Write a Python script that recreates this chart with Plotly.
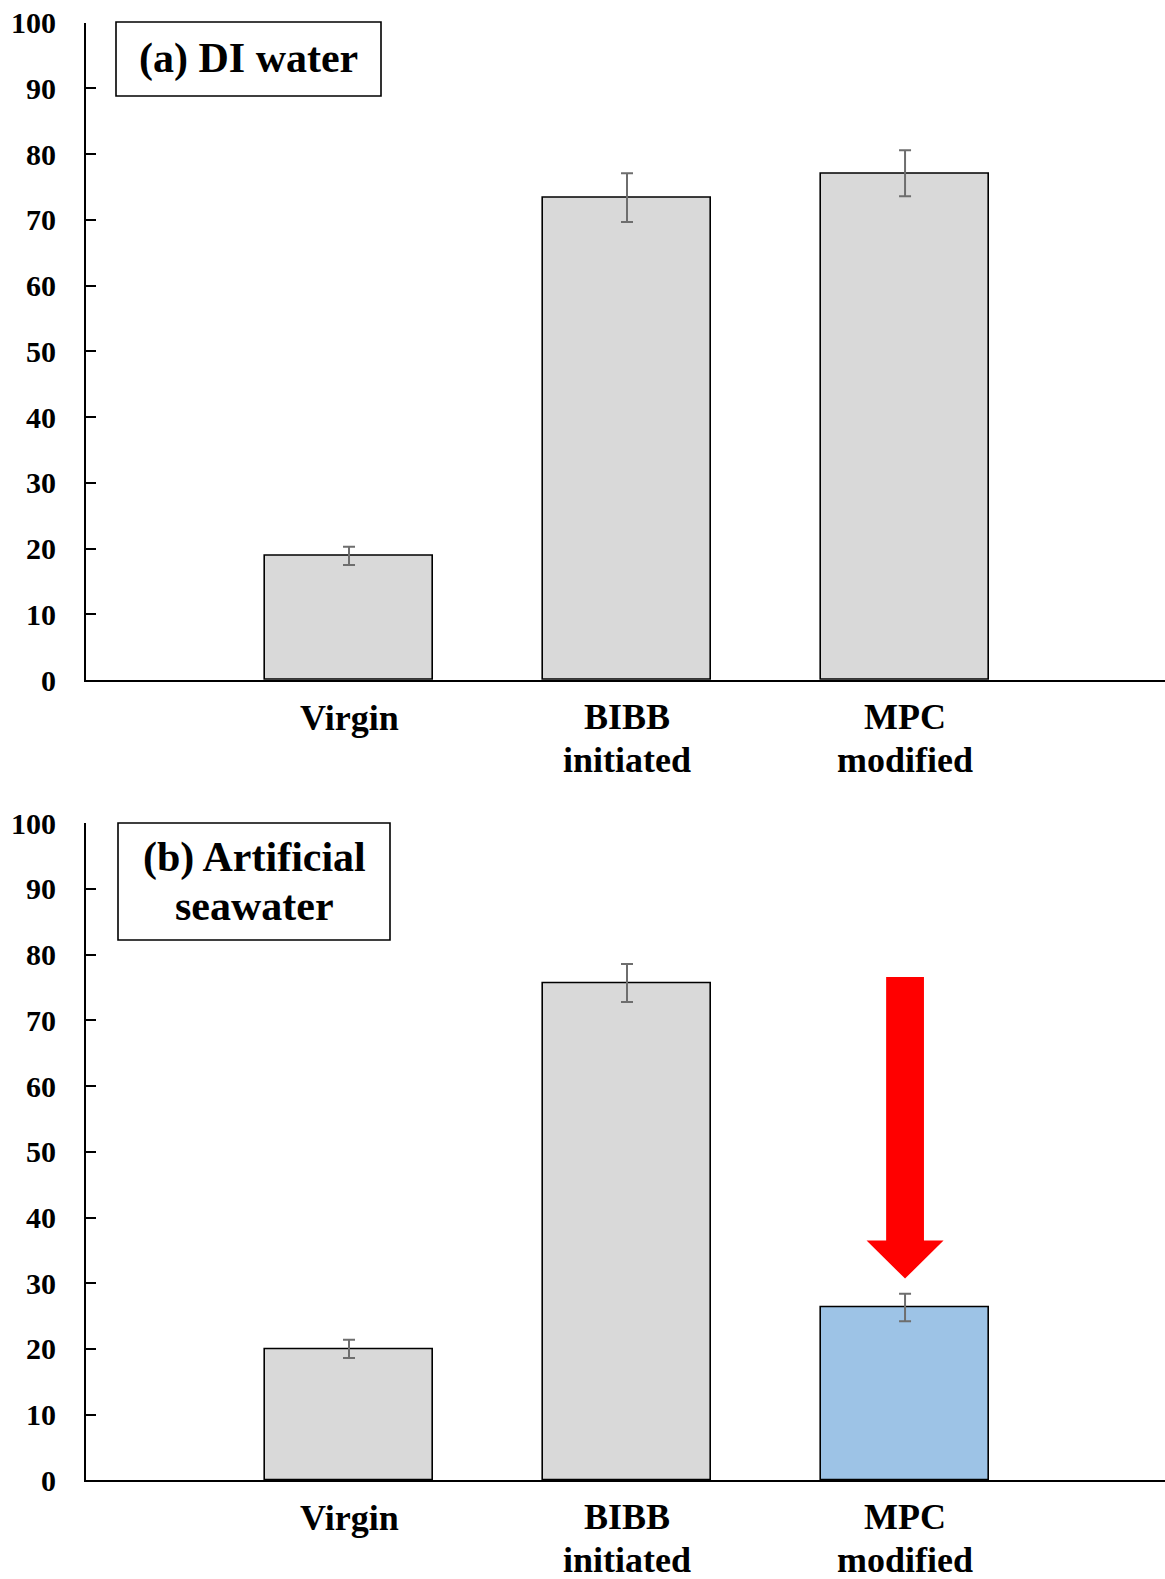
import plotly.graph_objects as go

# Bar categories (one list per text line under each bar)
categories = ["Virgin", "BIBB", "MPC"]
category_line2 = ["", "initiated", "modified"]

# (a) DI water
di_values = [18.9, 73.4, 77.1]
di_errors = [1.4, 3.7, 3.5]

# (b) Artificial seawater
sw_values = [20.0, 75.7, 26.3]
sw_errors = [1.4, 2.9, 2.1]

panel_titles = [["(a) DI water"], ["(b) Artificial", "seawater"]]
y_ticks = list(range(0, 101, 10))

GREY = "#D9D9D9"
BLUE = "#9DC3E6"
ERR = "#6E6E6E"
FONT = "Liberation Serif, Times New Roman, serif"

W, H = 1165, 1579
ML = 86
x_pos = list(range(len(categories)))
x_range = [-0.946, 2.935]

fig = go.Figure()

def add_bars(values, errors, colors, xa, ya):
    fig.add_trace(go.Bar(
        x=x_pos, y=values, width=0.604,
        marker=dict(color=colors, line=dict(color="black", width=1.6)),
        error_y=dict(type="data", array=errors, visible=True,
                     color=ERR, thickness=2, width=6),
        xaxis=xa, yaxis=ya, showlegend=False, hoverinfo="skip",
    ))

add_bars(di_values, di_errors, [GREY, GREY, GREY], "x", "y")
add_bars(sw_values, sw_errors, [GREY, GREY, BLUE], "x2", "y2")

axis_common = dict(showgrid=False, zeroline=False, showline=True,
                   linecolor="black", linewidth=2, automargin=False)
yaxis_common = dict(axis_common, range=[0, 100], tickvals=y_ticks,
                    ticks="inside", ticklen=10, tickwidth=2, tickcolor="black",
                    ticklabelstandoff=22,
                    tickfont=dict(family=FONT, size=30, color="black", weight="bold"))
xaxis_common = dict(axis_common, range=x_range, showticklabels=False, ticks="")

fig.update_layout(
    width=W, height=H,
    margin=dict(l=ML, r=0, t=0, b=0, autoexpand=False),
    paper_bgcolor="white", plot_bgcolor="white",
    bargap=0,
    xaxis=dict(xaxis_common, domain=[0, 1], anchor="y"),
    yaxis=dict(yaxis_common, domain=[0.5693, 0.9856], anchor="x"),
    xaxis2=dict(xaxis_common, domain=[0, 1], anchor="y2"),
    yaxis2=dict(yaxis_common, domain=[0.0625, 0.4786], anchor="x2"),
)

# Category labels beneath each panel
annotations = []
label_font = dict(family=FONT, size=36, color="black", weight="bold")
for xr, yr in (("x", "y"), ("x2", "y2")):
    for i, (l1, l2) in enumerate(zip(categories, category_line2)):
        if l2:
            annotations.append(dict(x=x_pos[i], y=0, xref=xr, yref=yr, text=l1,
                                    showarrow=False, yanchor="middle", yshift=-37, font=label_font))
            annotations.append(dict(x=x_pos[i], y=0, xref=xr, yref=yr, text=l2,
                                    showarrow=False, yanchor="middle", yshift=-80, font=label_font))
        else:
            annotations.append(dict(x=x_pos[i], y=0, xref=xr, yref=yr, text=l1,
                                    showarrow=False, yanchor="middle", yshift=-38, font=label_font))

# Panel title boxes, given in page pixels and converted to plot-area fractions
def px_x(p):
    return (p - ML) / (W - ML)

def px_y(p):
    return 1 - p / H

title_boxes = [(116, 22, 381, 96), (118, 823, 390, 940)]
shapes = []
box_font = dict(family=FONT, size=42, color="black", weight="bold")
for (x0, y0, x1, y1), lines in zip(title_boxes, panel_titles):
    shapes.append(dict(type="rect", xref="paper", yref="paper",
                       x0=px_x(x0), x1=px_x(x1), y0=px_y(y1), y1=px_y(y0),
                       line=dict(color="black", width=1.6), fillcolor="white"))
    n = len(lines)
    step = 49
    cy = (y0 + y1) / 2
    for k, line in enumerate(lines):
        ly = cy + (k - (n - 1) / 2) * step
        annotations.append(dict(x=px_x((x0 + x1) / 2), y=px_y(ly), xref="paper", yref="paper",
                                text=line, showarrow=False,
                                xanchor="center", yanchor="middle", font=box_font))

# Red down arrow above the MPC bar in panel (b)
arrow_x = x_pos[2]
arrow_top, arrow_neck, arrow_tip = 76.6, 36.5, 30.7
shaft_hw, head_hw = 0.068, 0.1385
path = ("M {a},{t} L {b},{t} L {b},{n} L {c},{n} L {x},{p} L {d},{n} L {a2},{n} Z").format(
    a=arrow_x - shaft_hw, b=arrow_x + shaft_hw, t=arrow_top, n=arrow_neck,
    c=arrow_x + head_hw, x=arrow_x, p=arrow_tip, d=arrow_x - head_hw, a2=arrow_x - shaft_hw)
shapes.append(dict(type="path", xref="x2", yref="y2", path=path,
                   fillcolor="#FF0000", line=dict(width=0)))

fig.update_layout(annotations=annotations, shapes=shapes)

fig.write_html("out.html")
